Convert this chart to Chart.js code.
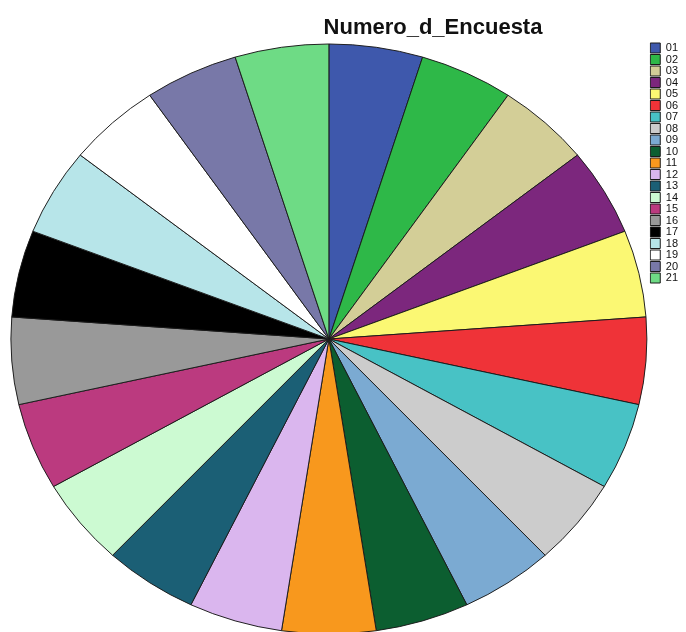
<!DOCTYPE html>
<html>
<head>
<meta charset="utf-8">
<title>Numero_d_Encuesta</title>
<script src="https://cdn.jsdelivr.net/npm/chart.js@4.4.1/dist/chart.umd.min.js"></script>
<style>
  html, body { margin: 0; padding: 0; background: #fff; overflow: hidden; }
  #wrap { position: relative; width: 686px; height: 632px; }
</style>
</head>
<body>
<div id="wrap"><canvas id="encuestaPie"></canvas></div>
<script>
// one response per survey number
const surveyLabels = ['01', '02', '03', '04', '05', '06', '07', '08', '09', '10', '11',
                      '12', '13', '14', '15', '16', '17', '18', '19', '20', '21'];
const surveyCounts = [1, 1, 1, 1, 1, 1, 1, 1, 1, 1, 1, 1, 1, 1, 1, 1, 1, 1, 1, 1, 1];
const sliceColors = [
  '#3e58ac', '#2eb848', '#d3ce97', '#7c277d', '#fbf873', '#ef3338', '#48c2c5',
  '#cccccc', '#7baad2', '#0c5e30', '#f8981d', '#dab6ee', '#1b5f75', '#ccfad2',
  '#bb3a7f', '#999999', '#000000', '#b7e5e9', '#ffffff', '#7878a8', '#6edb85'
];
const chartTitle = 'Numero_d_Encuesta';

// pie is drawn a little flatter than a circle
const PIE_CY = 339;
const Y_SQUASH = 295 / 318;

const squashPie = {
  id: 'squashPie',
  beforeDatasetsDraw(chart) {
    const arc = chart.getDatasetMeta(0).data[0];
    const ctx = chart.ctx;
    ctx.save();
    ctx.translate(arc.x, PIE_CY);
    ctx.scale(1, Y_SQUASH);
    ctx.translate(-arc.x, -arc.y);
  },
  afterDatasetsDraw(chart) {
    chart.ctx.restore();
  }
};

// title sits off-centre, to the right of the pie top
const titleText = {
  id: 'titleText',
  afterDraw(chart) {
    const ctx = chart.ctx;
    ctx.save();
    ctx.font = 'bold 22px "Liberation Sans", Arial, sans-serif';
    ctx.fillStyle = '#111';
    ctx.textAlign = 'center';
    ctx.textBaseline = 'alphabetic';
    ctx.fillText(chartTitle, 433, 34);
    ctx.restore();
  }
};

const ctx = document.getElementById('encuestaPie').getContext('2d');
new Chart(ctx, {
  type: 'pie',
  data: {
    labels: surveyLabels,
    datasets: [{
      data: surveyCounts,
      backgroundColor: sliceColors,
      borderColor: '#1a1a1a',
      borderWidth: 1,
      radius: 318
    }]
  },
  options: {
    responsive: true,
    maintainAspectRatio: false,
    animation: false,
    layout: { padding: { top: 42, right: -2, bottom: 0, left: 8 } },
    plugins: {
      tooltip: { enabled: false },
      title: { display: false },
      legend: {
        position: 'right',
        align: 'start',
        labels: {
          boxWidth: 10,
          boxHeight: 10,
          padding: 0.5,
          color: '#111',
          font: { family: '"Liberation Sans", Arial, sans-serif', size: 11 }
        }
      }
    }
  },
  plugins: [squashPie, titleText]
});
</script>
</body>
</html>
